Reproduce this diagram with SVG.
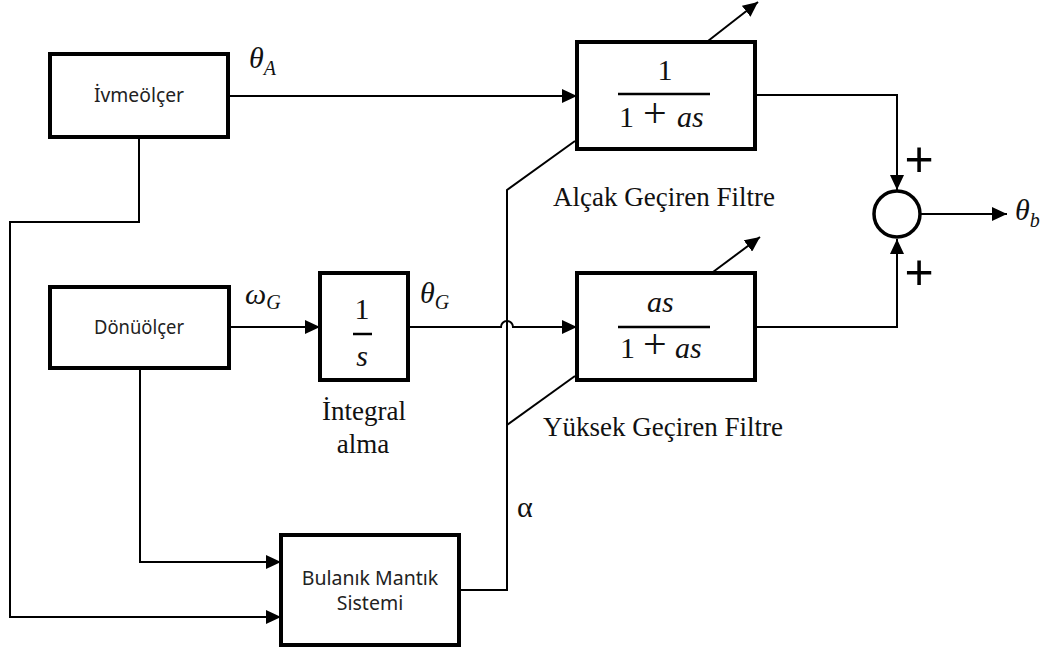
<svg xmlns="http://www.w3.org/2000/svg" width="1046" height="651" viewBox="0 0 1046 651">
  <style>
    .box { fill: #ffffff; stroke: #000000; stroke-width: 4; }
    .wire { fill: none; stroke: #000000; stroke-width: 2; }
    .frac { stroke: #000000; stroke-width: 2.5; }
    .sans { font-family: "Noto Sans", "Open Sans", sans-serif; font-size: 19.5px; fill: #222222; }
    .serif { font-family: "Liberation Serif", "Times New Roman", serif; font-size: 27px; fill: #111111; }
    .math { font-family: "Liberation Serif", "DejaVu Serif", serif; font-size: 30px; fill: #111111; }
    .var { font-family: "Liberation Serif", "DejaVu Serif", serif; font-style: italic; font-size: 30px; fill: #111111; }
    .op { font-size: 42px; font-style: normal; }
    .sub { font-size: 20px; }
    .plus { font-family: "Liberation Sans", Arial, sans-serif; font-size: 50px; fill: #000000; }
  </style>
  <defs>
    <marker id="arrow" viewBox="0 0 15 14" refX="15" refY="7" markerWidth="15" markerHeight="14" markerUnits="userSpaceOnUse" orient="auto">
      <path d="M0,0 L15,7 L0,14 Z" fill="#000000"/>
    </marker>
  </defs>

  <!-- connectors -->
  <g id="connectors">
    <!-- accelerometer to low-pass filter -->
    <path class="wire" d="M228,96 H577" marker-end="url(#arrow)"/>
    <!-- accelerometer to fuzzy system -->
    <path class="wire" d="M139,137 V222 H10 V617 H281" marker-end="url(#arrow)"/>
    <!-- gyroscope to integrator -->
    <path class="wire" d="M228,327 H320" marker-end="url(#arrow)"/>
    <!-- gyroscope to fuzzy system -->
    <path class="wire" d="M140,367 V562 H281" marker-end="url(#arrow)"/>
    <!-- integrator to high-pass filter, hopping over the alpha line -->
    <path class="wire" d="M408,327 H501 A6,6 0 0 1 513,327 H577" marker-end="url(#arrow)"/>
    <!-- alpha line feeding both filter gains -->
    <path class="wire" d="M459,590 H507 V190 L575,141"/>
    <path class="wire" d="M507,425 L575,376"/>
    <!-- variable-parameter arrows -->
    <path class="wire" d="M708,41 L758,2" marker-end="url(#arrow)"/>
    <path class="wire" d="M713,272 L760,237" marker-end="url(#arrow)"/>
    <!-- filters to summing junction -->
    <path class="wire" d="M755,95 H897 V190" marker-end="url(#arrow)"/>
    <path class="wire" d="M755,327 H897 V239" marker-end="url(#arrow)"/>
    <!-- output -->
    <path class="wire" d="M921,214 H1007" marker-end="url(#arrow)"/>
  </g>

  <!-- accelerometer -->
  <g id="ivmeolcer">
    <rect class="box" x="50" y="54" width="178" height="83"/>
    <text class="sans" x="139" y="102" text-anchor="middle" textLength="90" lengthAdjust="spacingAndGlyphs">İvmeölçer</text>
  </g>

  <!-- gyroscope -->
  <g id="donuolcer">
    <rect class="box" x="50" y="287" width="179" height="81"/>
    <text class="sans" x="139" y="334" text-anchor="middle" textLength="90" lengthAdjust="spacingAndGlyphs">Dönüölçer</text>
  </g>

  <!-- integrator -->
  <g id="integral">
    <rect class="box" x="320" y="273" width="88" height="107"/>
    <text class="math" x="362" y="319" text-anchor="middle">1</text>
    <line class="frac" x1="353" y1="334" x2="372" y2="334"/>
    <text class="var" x="362" y="366" text-anchor="middle">s</text>
    <text class="serif" x="364" y="420" text-anchor="middle">İntegral</text>
    <text class="serif" x="363" y="453" text-anchor="middle">alma</text>
  </g>

  <!-- low-pass filter -->
  <g id="alcak">
    <rect class="box" x="577" y="42" width="178" height="107"/>
    <text class="math" x="665" y="80" text-anchor="middle">1</text>
    <line class="frac" x1="618" y1="94" x2="710" y2="94"/>
    <text class="math" y="127"><tspan x="619">1</tspan><tspan class="op" x="643">+</tspan><tspan class="var" x="677">as</tspan></text>
    <text class="serif" x="553" y="206">Alçak Geçiren Filtre</text>
  </g>

  <!-- high-pass filter -->
  <g id="yuksek">
    <rect class="box" x="577" y="273" width="178" height="107"/>
    <text class="var" x="647" y="312">as</text>
    <line class="frac" x1="618" y1="327" x2="710" y2="327"/>
    <text class="math" y="358"><tspan x="620">1</tspan><tspan class="op" x="643">+</tspan><tspan class="var" x="675">as</tspan></text>
    <text class="serif" x="543" y="436">Yüksek Geçiren Filtre</text>
  </g>

  <!-- fuzzy logic system -->
  <g id="bulanik">
    <rect class="box" x="281" y="535" width="178" height="110"/>
    <text class="sans" x="370" y="585" text-anchor="middle">Bulanık Mantık</text>
    <text class="sans" x="370" y="610" text-anchor="middle">Sistemi</text>
  </g>

  <!-- summing junction -->
  <g id="toplama">
    <circle cx="897" cy="214" r="23" fill="#ffffff" stroke="#000000" stroke-width="3.5"/>
    <text class="plus" x="919" y="176" text-anchor="middle">+</text>
    <text class="plus" x="919" y="289" text-anchor="middle">+</text>
  </g>

  <!-- signal labels -->
  <g id="labels">
    <text class="var" x="249" y="68">θ<tspan class="sub" dy="7">A</tspan></text>
    <text class="var" x="245" y="304">ω<tspan class="sub" dy="5">G</tspan></text>
    <text class="var" x="420" y="303">θ<tspan class="sub" dy="6">G</tspan></text>
    <text class="var" x="1015" y="220">θ<tspan class="sub" dy="7">b</tspan></text>
    <text class="serif" x="517" y="517" style="font-size:30px">α</text>
  </g>
</svg>
